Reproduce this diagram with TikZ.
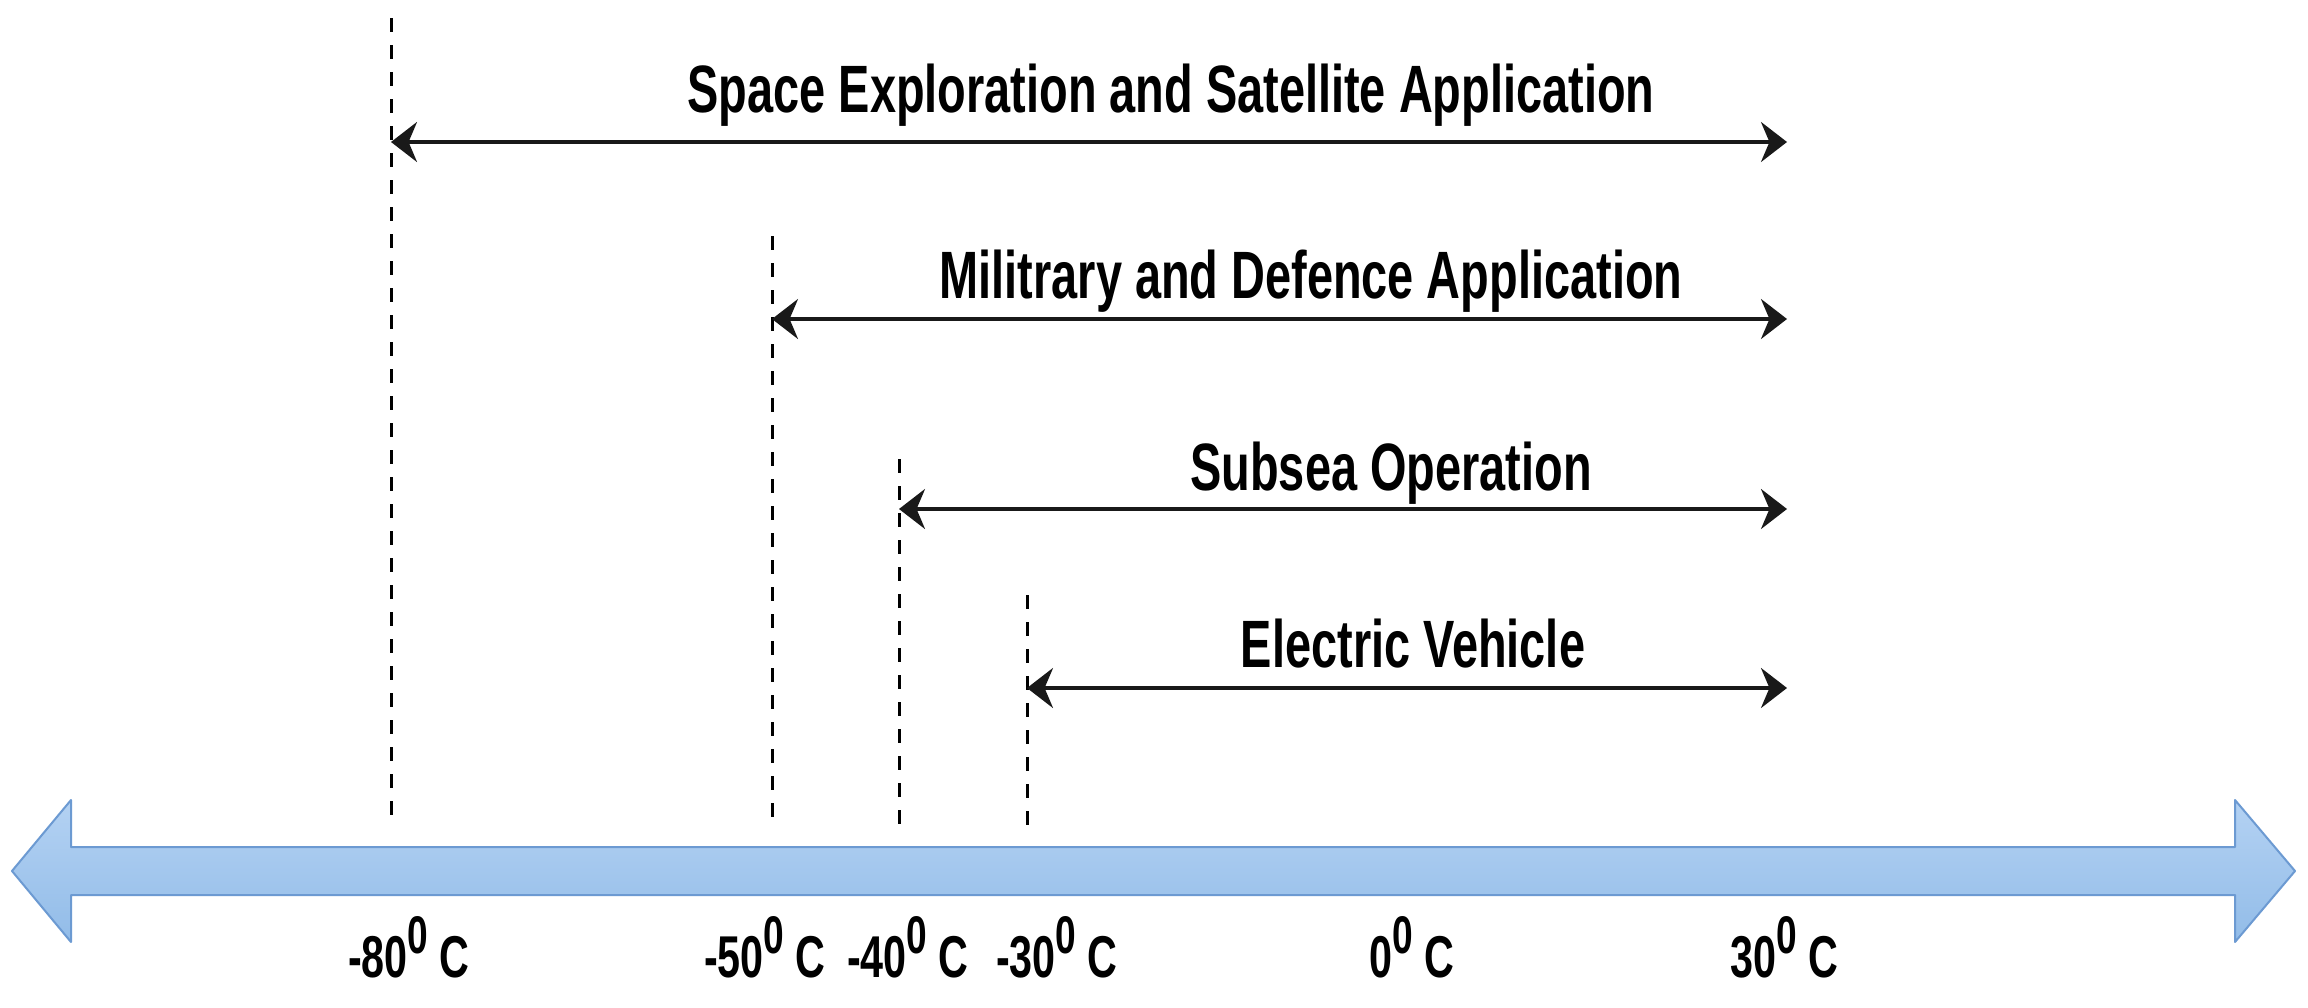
\documentclass[tikz,border=0pt]{standalone}
\usepackage{fontspec}
\newfontfamily\labfont[FakeStretch=0.7]{Liberation Sans}
\usetikzlibrary{arrows.meta}
\definecolor{bandtop}{RGB}{180,210,243}
\definecolor{bandbot}{RGB}{146,188,232}
\definecolor{bandedge}{RGB}{108,154,210}
\definecolor{ink}{RGB}{25,25,25}
\tikzset{
  apptext/.style={anchor=base,inner sep=0pt,font=\labfont\bfseries\fontsize{67}{70}\selectfont,text=black},
  templabel/.style={anchor=base,inner sep=0pt,font=\labfont\bfseries\fontsize{59}{62}\selectfont,text=black},
  guide/.style={draw=black,line width=3pt,dash pattern=on 14pt off 13pt},
  spanarrow/.style={draw=ink,line width=3.5pt,{Stealth[length=26pt,width=40pt]}-{Stealth[length=26pt,width=40pt]}},
  band/.style={draw=bandedge,line width=2pt,top color=bandtop,bottom color=bandbot,line join=round}
}
\newcommand{\degsup}{\raisebox{24pt}{\fontsize{53}{53}\selectfont 0}}
\begin{document}
\begin{tikzpicture}[x=1pt,y=-1pt]
\useasboundingbox[fill=white] (0,0) rectangle (2308,1007);

% big temperature axis arrow
\path[band] (12,871) -- (71,800) -- (71,847) -- (2235,847) -- (2235,800)
  -- (2295,871) -- (2235,942) -- (2235,895) -- (71,895) -- (71,942) -- cycle;

% dashed guide lines
\coordinate (g80t) at (391,18);   \coordinate (g80b) at (391,827);
\coordinate (g50t) at (772,236);  \coordinate (g50b) at (772,827);
\coordinate (g40t) at (899,459);  \coordinate (g40b) at (899,827);
\coordinate (g30t) at (1027,595); \coordinate (g30b) at (1027,827);
\draw[guide] (g80t) -- (g80b);
\draw[guide] (g50t) -- (g50b);
\draw[guide] (g40t) -- (g40b);
\draw[guide] (g30t) -- (g30b);

% range arrows
\coordinate (sL) at (391,142);  \coordinate (sR) at (1787,142);
\coordinate (mL) at (772,319);  \coordinate (mR) at (1787,319);
\coordinate (uL) at (899,509);  \coordinate (uR) at (1787,509);
\coordinate (eL) at (1027,688); \coordinate (eR) at (1787,688);
\draw[spanarrow] (sL) -- (sR);
\draw[spanarrow] (mL) -- (mR);
\draw[spanarrow] (uL) -- (uR);
\draw[spanarrow] (eL) -- (eR);

% application labels
\node[apptext] (space) at (1171,112) {Space Exploration and Satellite Application};
\node[apptext] (mil) at (1311,298) {Militrary and Defence Application};
\node[apptext] (sub) at (1391,490) {Subsea Operation};
\node[apptext] (ev) at (1413,667) {Electric Vehicle};

% temperature labels
\node[templabel] (t80) at (409,977) {-80\degsup{} C};
\node[templabel] (t50) at (765,977) {-50\degsup{} C};
\node[templabel] (t40) at (908,977) {-40\degsup{} C};
\node[templabel] (t30) at (1057,977) {-30\degsup{} C};
\node[templabel] (t0) at (1412,977) {0\degsup{} C};
\node[templabel] (t30p) at (1784,977) {30\degsup{} C};
\end{tikzpicture}
\end{document}
